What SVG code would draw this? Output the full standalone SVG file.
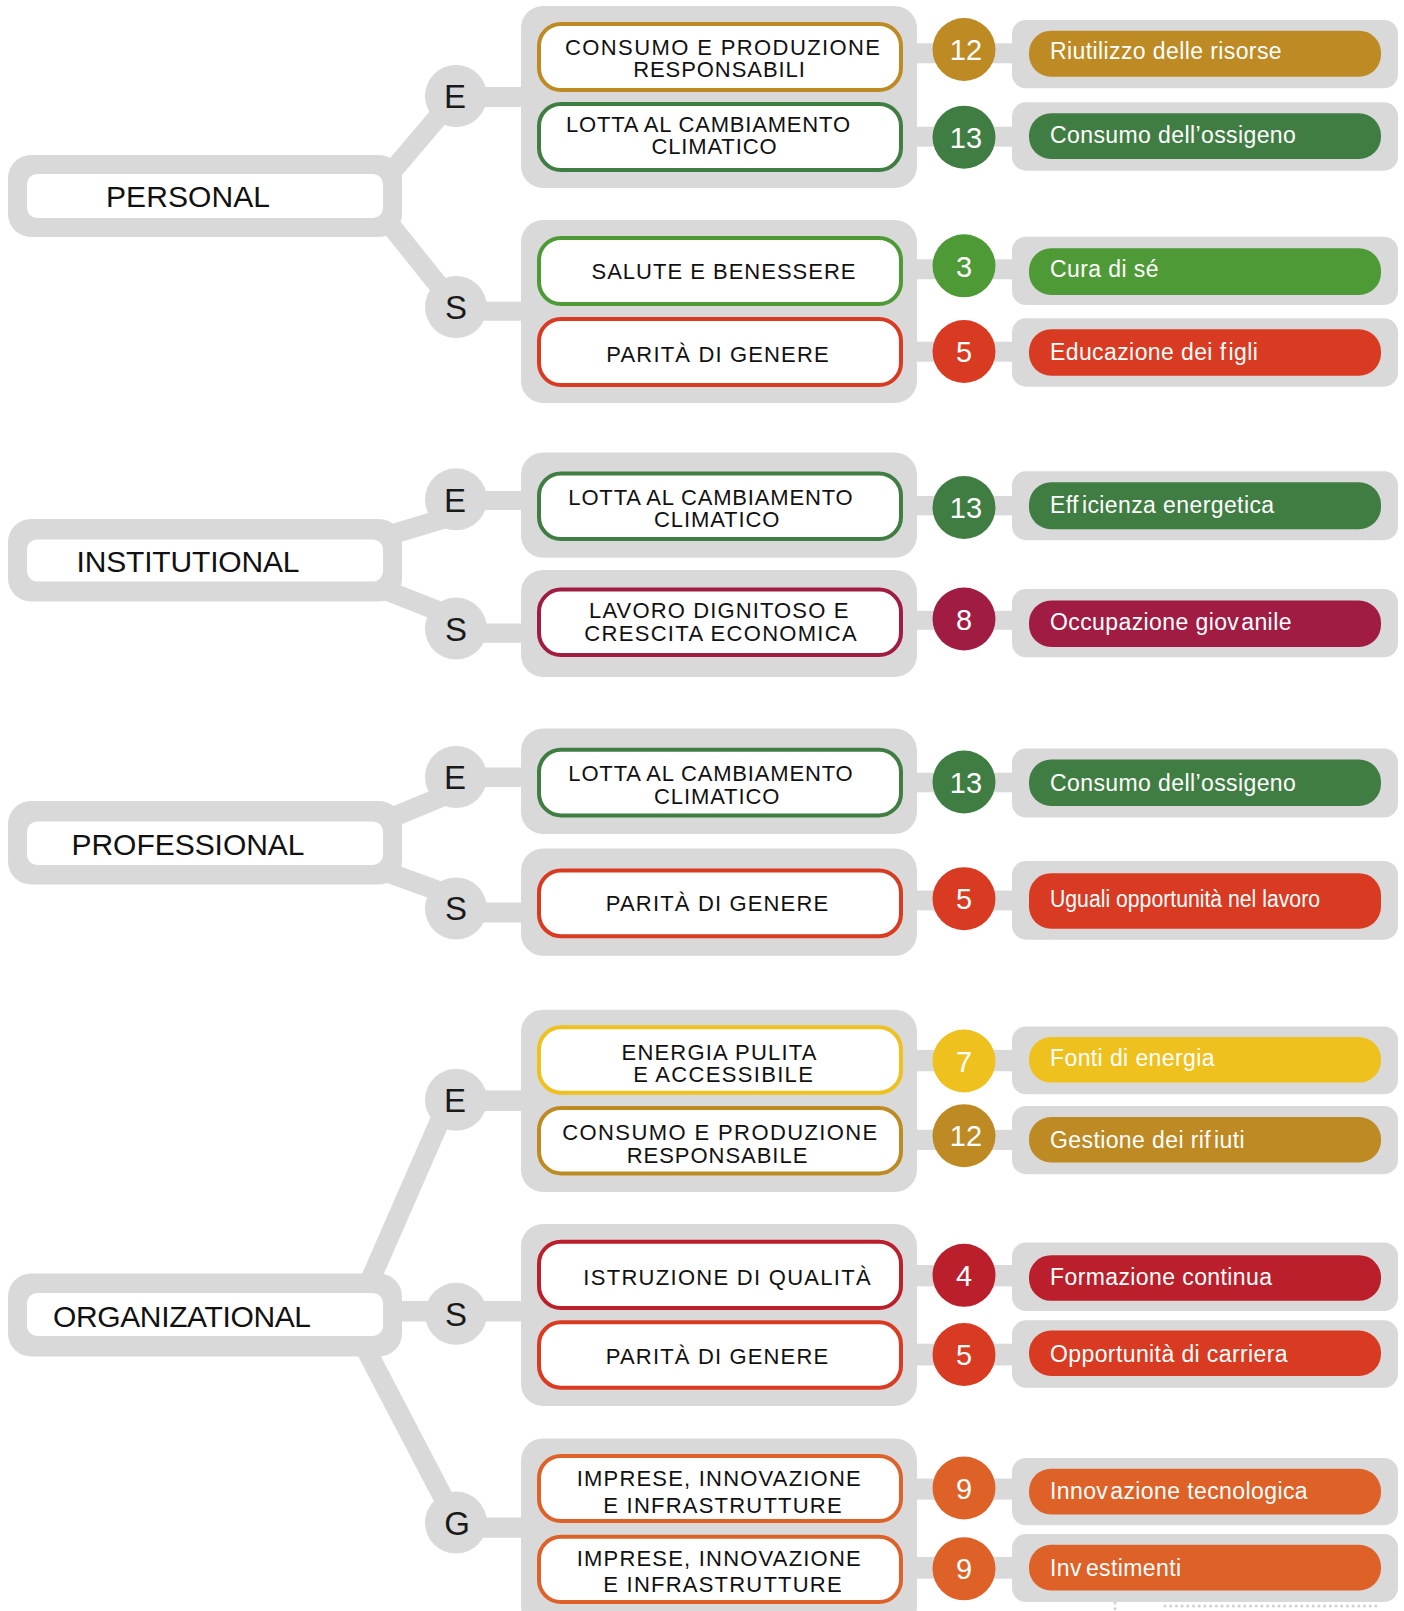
<svg xmlns="http://www.w3.org/2000/svg" width="1404" height="1611" viewBox="0 0 1404 1611">
<defs>
<style>
.g{fill:#d8d9d8}
.ln{stroke:#d8d9d8;stroke-width:20;fill:none}
.cw{fill:#fff}
.ct{font-family:"Liberation Sans",Arial,sans-serif;font-size:30px;fill:#111;text-anchor:middle}
.lt{font-family:"Liberation Sans",Arial,sans-serif;font-size:33px;fill:#1a1a1a;text-anchor:middle}
.box{fill:#fff;stroke-width:4}
.bt{font-family:"Liberation Sans",Arial,sans-serif;font-size:22px;fill:#111;text-anchor:middle}
.nt{font-family:"Liberation Sans",Arial,sans-serif;font-size:29px;fill:#fff;text-anchor:middle}
.lb{font-family:"Liberation Sans",Arial,sans-serif;font-size:23px;fill:#fff;letter-spacing:0.4px}
.c12{fill:#bd8a23}.s12{stroke:#bd8a23}
.c13{fill:#3f7d42}.s13{stroke:#3f7d42}
.c3{fill:#4e9a36}.s3{stroke:#4e9a36}
.c5{fill:#d93a22}.s5{stroke:#d93a22}
.c8{fill:#a01c43}.s8{stroke:#a01c43}
.c7{fill:#efc11f}.s7{stroke:#efc11f}
.c4{fill:#ba1f2b}.s4{stroke:#ba1f2b}
.c9{fill:#de6128}.s9{stroke:#de6128}
</style>
</defs>

<g id="connectors">
<line class="ln" x1="371" y1="196" x2="456" y2="96"/>
<line class="ln" x1="367" y1="196" x2="456" y2="307"/>
<line class="ln" x1="370" y1="541" x2="456" y2="515"/>
<line class="ln" x1="370" y1="584" x2="456" y2="618"/>
<line class="ln" x1="370" y1="826.5" x2="456" y2="791"/>
<line class="ln" x1="370" y1="866" x2="456" y2="897.4"/>
<line class="ln" x1="365" y1="1292" x2="449" y2="1100"/>
<line class="ln" x1="361" y1="1340" x2="456" y2="1522"/>
<rect class="g" x="395" y="1301" width="40" height="20.5"/>
<rect class="g" x="478" y="87" width="46" height="20"/>
<rect class="g" x="478" y="301.7" width="46" height="19"/>
<rect class="g" x="478" y="491" width="46" height="19"/>
<rect class="g" x="478" y="623.5" width="46" height="19.3"/>
<rect class="g" x="478" y="767.5" width="46" height="19.5"/>
<rect class="g" x="478" y="902.5" width="46" height="20"/>
<rect class="g" x="478" y="1090.4" width="46" height="20.6"/>
<rect class="g" x="478" y="1301" width="46" height="20.5"/>
<rect class="g" x="478" y="1517.5" width="46" height="20.3"/>
<rect class="g" x="914" y="43.3" width="100" height="20"/>
<rect class="g" x="914" y="126.7" width="100" height="20"/>
<rect class="g" x="914" y="259.3" width="100" height="20"/>
<rect class="g" x="914" y="341.7" width="100" height="20"/>
<rect class="g" x="914" y="496" width="100" height="19.4"/>
<rect class="g" x="914" y="610.8" width="100" height="19"/>
<rect class="g" x="914" y="772.7" width="100" height="19.6"/>
<rect class="g" x="914" y="890.5" width="100" height="19.9"/>
<rect class="g" x="914" y="1049.9" width="100" height="21.4"/>
<rect class="g" x="914" y="1129.8" width="100" height="20.2"/>
<rect class="g" x="914" y="1265" width="100" height="21.4"/>
<rect class="g" x="914" y="1343.7" width="100" height="21.8"/>
<rect class="g" x="914" y="1478.5" width="100" height="21.1"/>
<rect class="g" x="914" y="1557" width="100" height="21.7"/>
<path d="M1115 1603 V1611 M1165 1606 H1376" stroke="#d0d0d0" stroke-width="3" stroke-linecap="round" stroke-dasharray="0 5.7" fill="none"/>
</g>

<g id="cat-personal">
<rect class="g" x="8" y="155" width="394" height="82" rx="23"/>
<rect class="cw" x="27" y="174" width="356" height="44" rx="10"/>
<text class="ct" x="188" y="207" textLength="164">PERSONAL</text>
</g>
<g id="cat-institutional">
<rect class="g" x="8" y="519" width="394" height="82.5" rx="23"/>
<rect class="cw" x="27" y="539.5" width="356" height="42" rx="10"/>
<text class="ct" x="188" y="572" textLength="223">INSTITUTIONAL</text>
</g>
<g id="cat-professional">
<rect class="g" x="8" y="801" width="394" height="83.6" rx="23"/>
<rect class="cw" x="27" y="821.6" width="356" height="43.4" rx="10"/>
<text class="ct" x="188" y="855" textLength="233">PROFESSIONAL</text>
</g>
<g id="cat-organizational">
<rect class="g" x="8" y="1273.6" width="394" height="83" rx="23"/>
<rect class="cw" x="27" y="1293" width="356" height="43" rx="10"/>
<text class="ct" x="182" y="1327" textLength="258">ORGANIZATIONAL</text>
</g>

<g id="personal-e"><circle class="g" cx="456" cy="96" r="31"/><text class="lt" x="455" y="108">E</text></g>
<g id="personal-s"><circle class="g" cx="456" cy="307" r="31"/><text class="lt" x="456" y="319">S</text></g>
<g id="institutional-e"><circle class="g" cx="456" cy="499.3" r="31"/><text class="lt" x="455" y="511.5">E</text></g>
<g id="institutional-s"><circle class="g" cx="456" cy="628.6" r="31"/><text class="lt" x="456" y="641">S</text></g>
<g id="professional-e"><circle class="g" cx="456" cy="777" r="31"/><text class="lt" x="455" y="788.5">E</text></g>
<g id="professional-s"><circle class="g" cx="456" cy="908.5" r="31"/><text class="lt" x="456" y="920">S</text></g>
<g id="organizational-e"><circle class="g" cx="456" cy="1099.8" r="31"/><text class="lt" x="455" y="1111.5">E</text></g>
<g id="organizational-s"><circle class="g" cx="456" cy="1313.8" r="31"/><text class="lt" x="456" y="1325.5">S</text></g>
<g id="organizational-g"><circle class="g" cx="456" cy="1522.6" r="31"/><text class="lt" x="457" y="1534.5">G</text></g>

<g id="grp-personal-e">
<rect class="g" x="521" y="6" width="396" height="182" rx="22"/>
<g id="sdg-p12"><rect class="box s12" x="539" y="24" width="362" height="66" rx="22"/>
<text class="bt" x="722.5" y="55" textLength="315">CONSUMO E PRODUZIONE</text>
<text class="bt" x="719" y="77.3" textLength="171.7">RESPONSABILI</text></g>
<g id="sdg-p13"><rect class="box s13" x="539" y="104" width="362" height="66" rx="22"/>
<text class="bt" x="708" y="132.3" textLength="284">LOTTA AL CAMBIAMENTO</text>
<text class="bt" x="714" y="154.3" textLength="125">CLIMATICO</text></g>
</g>
<g id="grp-personal-s">
<rect class="g" x="521" y="220" width="396" height="183" rx="22"/>
<g id="sdg-p3"><rect class="box s3" x="539" y="238" width="362" height="66" rx="22"/>
<text class="bt" x="723.5" y="279.3" textLength="264">SALUTE E BENESSERE</text></g>
<g id="sdg-p5"><rect class="box s5" x="539" y="319" width="362" height="66" rx="22"/>
<text class="bt" x="717.5" y="361.7" textLength="222.3">PARITÀ DI GENERE</text></g>
</g>
<g id="grp-institutional-e">
<rect class="g" x="521" y="452.6" width="396" height="105.1" rx="22"/>
<g id="sdg-i13"><rect class="box s13" x="539" y="473.5" width="362" height="65.5" rx="22"/>
<text class="bt" x="710.5" y="504.7" textLength="284.3">LOTTA AL CAMBIAMENTO</text>
<text class="bt" x="716.7" y="526.9" textLength="125.3">CLIMATICO</text></g>
</g>
<g id="grp-institutional-s">
<rect class="g" x="521" y="570" width="396" height="107" rx="22"/>
<g id="sdg-i8"><rect class="box s8" x="539" y="589.6" width="362" height="65.4" rx="22"/>
<text class="bt" x="718.7" y="618" textLength="259.3">LAVORO DIGNITOSO E</text>
<text class="bt" x="720.5" y="640.7" textLength="272.3">CRESCITA ECONOMICA</text></g>
</g>
<g id="grp-professional-e">
<rect class="g" x="521" y="728.6" width="396" height="105.4" rx="22"/>
<g id="sdg-r13"><rect class="box s13" x="539" y="749.8" width="362" height="65.6" rx="22"/>
<text class="bt" x="710.5" y="781" textLength="284.3">LOTTA AL CAMBIAMENTO</text>
<text class="bt" x="716.7" y="803.8" textLength="125.3">CLIMATICO</text></g>
</g>
<g id="grp-professional-s">
<rect class="g" x="521" y="848.6" width="396" height="107.2" rx="22"/>
<g id="sdg-r5"><rect class="box s5" x="539" y="870.5" width="362" height="65.7" rx="22"/>
<text class="bt" x="717" y="911" textLength="222.3">PARITÀ DI GENERE</text></g>
</g>
<g id="grp-organizational-e">
<rect class="g" x="521" y="1009.7" width="396" height="182.3" rx="22"/>
<g id="sdg-o7"><rect class="box s7" x="539" y="1027.3" width="362" height="65.4" rx="22"/>
<text class="bt" x="719" y="1060" textLength="195">ENERGIA PULITA</text>
<text class="bt" x="723" y="1082" textLength="179.7">E ACCESSIBILE</text></g>
<g id="sdg-o12"><rect class="box s12" x="539" y="1108" width="362" height="65.4" rx="22"/>
<text class="bt" x="719.8" y="1139.5" textLength="315">CONSUMO E PRODUZIONE</text>
<text class="bt" x="717" y="1162.5" textLength="180.7">RESPONSABILE</text></g>
</g>
<g id="grp-organizational-s">
<rect class="g" x="521" y="1224" width="396" height="182" rx="22"/>
<g id="sdg-o4"><rect class="box s4" x="539" y="1241.7" width="362" height="66.3" rx="22"/>
<text class="bt" x="727" y="1285.3" textLength="287.3">ISTRUZIONE DI QUALITÀ</text></g>
<g id="sdg-o5"><rect class="box s5" x="539" y="1322.3" width="362" height="65.4" rx="22"/>
<text class="bt" x="717" y="1364.4" textLength="222.3">PARITÀ DI GENERE</text></g>
</g>
<g id="grp-organizational-g">
<rect class="g" x="521" y="1438.4" width="396" height="190" rx="22"/>
<g id="sdg-o9a"><rect class="box s9" x="539" y="1456" width="362" height="65" rx="22"/>
<text class="bt" x="718.7" y="1486.4" textLength="284">IMPRESE, INNOVAZIONE</text>
<text class="bt" x="722.5" y="1512.5" textLength="238.3">E INFRASTRUTTURE</text></g>
<g id="sdg-o9b"><rect class="box s9" x="539" y="1536.7" width="362" height="65.3" rx="22"/>
<text class="bt" x="718.7" y="1565.9" textLength="284">IMPRESE, INNOVAZIONE</text>
<text class="bt" x="722.5" y="1592.4" textLength="238.3">E INFRASTRUTTURE</text></g>
</g>

<g id="num-p12"><circle class="c12" cx="964" cy="49.5" r="31.5"/><text class="nt" x="966" y="60">12</text></g>
<g id="num-p13"><circle class="c13" cx="964" cy="137.2" r="31.5"/><text class="nt" x="966" y="148">13</text></g>
<g id="num-p3"><circle class="c3" cx="964" cy="265.8" r="31.5"/><text class="nt" x="964" y="276.7">3</text></g>
<g id="num-p5"><circle class="c5" cx="964" cy="351.5" r="31.5"/><text class="nt" x="964" y="362">5</text></g>
<g id="num-i13"><circle class="c13" cx="964" cy="507.5" r="31.5"/><text class="nt" x="966" y="518">13</text></g>
<g id="num-i8"><circle class="c8" cx="964" cy="619" r="31.5"/><text class="nt" x="964" y="629.5">8</text></g>
<g id="num-r13"><circle class="c13" cx="964" cy="782" r="31.5"/><text class="nt" x="966" y="792.5">13</text></g>
<g id="num-r5"><circle class="c5" cx="964" cy="898.7" r="31.5"/><text class="nt" x="964" y="909.2">5</text></g>
<g id="num-o7"><circle class="c7" cx="964" cy="1061" r="31.5"/><text class="nt" x="964" y="1071.5">7</text></g>
<g id="num-o12"><circle class="c12" cx="964" cy="1135.7" r="31.5"/><text class="nt" x="966" y="1146.2">12</text></g>
<g id="num-o4"><circle class="c4" cx="964" cy="1275.3" r="31.5"/><text class="nt" x="964" y="1285.8">4</text></g>
<g id="num-o5"><circle class="c5" cx="964" cy="1354.5" r="31.5"/><text class="nt" x="964" y="1365">5</text></g>
<g id="num-o9a"><circle class="c9" cx="964" cy="1488" r="31.5"/><text class="nt" x="964" y="1498.5">9</text></g>
<g id="num-o9b"><circle class="c9" cx="964" cy="1568.8" r="31.5"/><text class="nt" x="964" y="1579.3">9</text></g>

<g id="lab-p12"><rect class="g" x="1012" y="20" width="386" height="68.3" rx="14"/><rect class="c12" x="1029" y="30.7" width="352" height="46" rx="22"/>
<text class="lb" x="1050" y="59.3">Riutilizzo delle risorse</text></g>
<g id="lab-p13"><rect class="g" x="1012" y="102.3" width="386" height="68.4" rx="14"/><rect class="c13" x="1029" y="113.3" width="352" height="45.7" rx="22"/>
<text class="lb" x="1050" y="143.3">Consumo dell’ossigeno</text></g>
<g id="lab-p3"><rect class="g" x="1012" y="236.7" width="386" height="68.3" rx="14"/><rect class="c3" x="1029" y="248.3" width="352" height="46.7" rx="22"/>
<text class="lb" x="1050" y="276.7">Cura di sé</text></g>
<g id="lab-p5"><rect class="g" x="1012" y="318.3" width="386" height="68.4" rx="14"/><rect class="c5" x="1029" y="329.3" width="352" height="46.4" rx="22"/>
<text class="lb" x="1050" y="360">Educazione dei f<tspan dx="2">igli</tspan></text></g>
<g id="lab-i13"><rect class="g" x="1012" y="471.3" width="386" height="68.9" rx="14"/><rect class="c13" x="1029" y="482.3" width="352" height="46.9" rx="22"/>
<text class="lb" x="1050" y="512.7">Eff<tspan dx="3">icienza energetica</tspan></text></g>
<g id="lab-i8"><rect class="g" x="1012" y="589" width="386" height="68.3" rx="14"/><rect class="c8" x="1029" y="600.5" width="352" height="46.5" rx="22"/>
<text class="lb" x="1050" y="629.8">Occupazione giov<tspan dx="2">anile</tspan></text></g>
<g id="lab-r13"><rect class="g" x="1012" y="748.6" width="386" height="68.9" rx="14"/><rect class="c13" x="1029" y="759.6" width="352" height="46.4" rx="22"/>
<text class="lb" x="1050" y="791">Consumo dell’ossigeno</text></g>
<g id="lab-r5"><rect class="g" x="1012" y="861" width="386" height="78.7" rx="14"/><rect class="c5" x="1029" y="873.2" width="352" height="55.5" rx="22"/>
<text class="lb" x="1050" y="907" textLength="270" lengthAdjust="spacingAndGlyphs" style="letter-spacing:0">Uguali opportunità nel lavoro</text></g>
<g id="lab-o7"><rect class="g" x="1012" y="1026.5" width="386" height="67.8" rx="14"/><rect class="c7" x="1029" y="1037" width="352" height="45.6" rx="22"/>
<text class="lb" x="1050" y="1066.2">Fonti di energia</text></g>
<g id="lab-o12"><rect class="g" x="1012" y="1106" width="386" height="68.2" rx="14"/><rect class="c12" x="1029" y="1117" width="352" height="45.5" rx="22"/>
<text class="lb" x="1050" y="1148">Gestione dei rif<tspan dx="3">iuti</tspan></text></g>
<g id="lab-o4"><rect class="g" x="1012" y="1242.4" width="386" height="68.6" rx="14"/><rect class="c4" x="1029" y="1255.2" width="352" height="45.6" rx="22"/>
<text class="lb" x="1050" y="1285.3">Formazione continua</text></g>
<g id="lab-o5"><rect class="g" x="1012" y="1320.3" width="386" height="67.5" rx="14"/><rect class="c5" x="1029" y="1330.5" width="352" height="45.5" rx="22"/>
<text class="lb" x="1050" y="1362.4">Opportunità di carriera</text></g>
<g id="lab-o9a"><rect class="g" x="1012" y="1458" width="386" height="67.3" rx="14"/><rect class="c9" x="1029" y="1468.8" width="352" height="45.6" rx="22"/>
<text class="lb" x="1050" y="1498.8">Innov<tspan dx="2">azione tecnologica</tspan></text></g>
<g id="lab-o9b"><rect class="g" x="1012" y="1534" width="386" height="68" rx="14"/><rect class="c9" x="1029" y="1544.8" width="352" height="45.6" rx="22"/>
<text class="lb" x="1050" y="1576">Inv<tspan dx="4">estimenti</tspan></text></g>
</svg>
